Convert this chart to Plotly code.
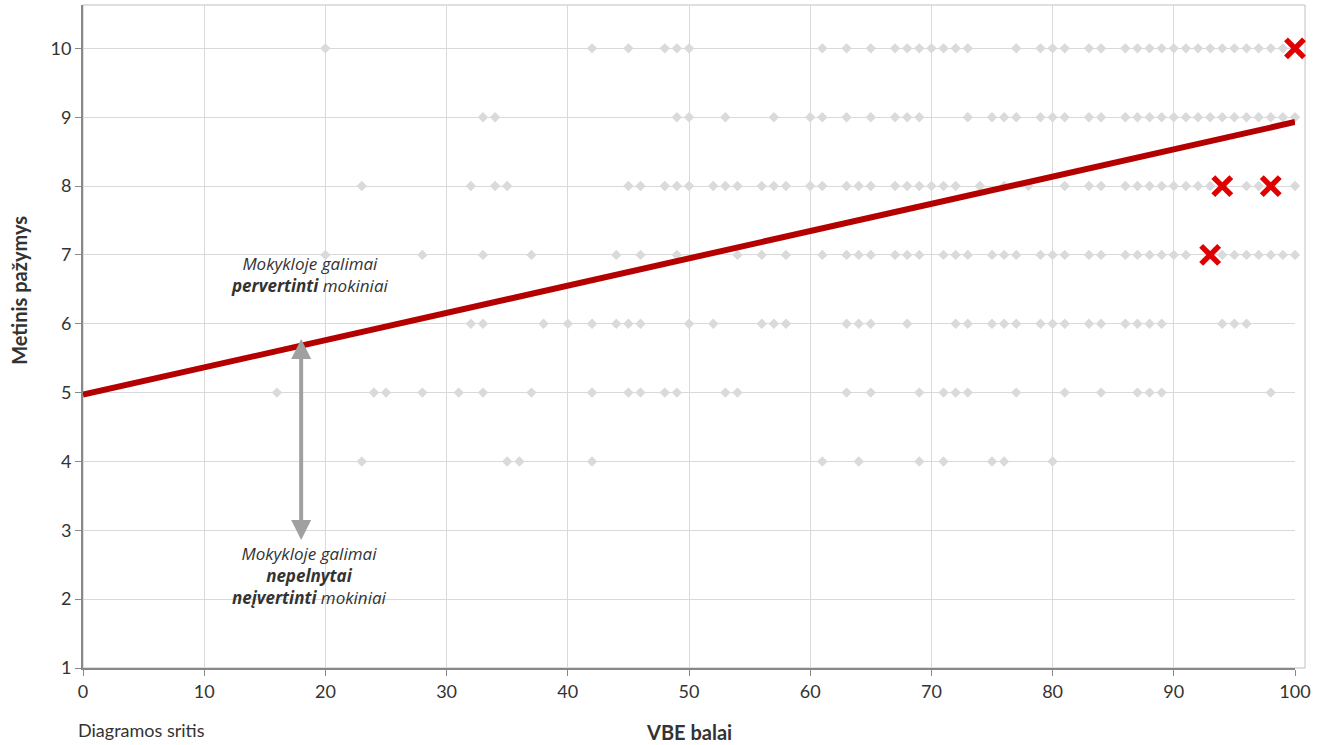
import plotly.graph_objects as go

# VBE scores (x) for each annual grade (y) - gray scatter
row10 = [20, 42, 45, 48, 49, 50, 61, 63, 65, 67, 68, 69, 70, 71, 72, 73, 77, 79, 80, 81, 83, 84,
         86, 87, 88, 89, 90, 91, 92, 93, 94, 95, 96, 97, 98, 99]
row9 = [33, 34, 49, 50, 53, 57, 60, 61, 63, 65, 67, 68, 69, 73, 75, 76, 77, 79, 80, 81, 83, 84,
        86, 87, 88, 89, 90, 91, 92, 93, 94, 95, 96, 97, 98, 99, 100]
row8 = [23, 32, 34, 35, 45, 46, 48, 49, 50, 52, 53, 54, 56, 57, 58, 60, 61, 63, 64, 65, 67, 68, 69,
        70, 71, 72, 74, 76, 78, 81, 83, 84, 86, 87, 88, 89, 90, 91, 92, 93, 96, 97, 100]
row7 = [20, 28, 33, 37, 44, 46, 49, 54, 56, 58, 61, 63, 64, 65, 67, 68, 69, 71, 72, 73, 75, 76, 77,
        79, 80, 81, 83, 84, 86, 87, 88, 89, 90, 91, 94, 95, 96, 97, 98, 99, 100]
row6 = [32, 33, 38, 40, 42, 44, 45, 46, 50, 52, 56, 57, 58, 63, 64, 65, 68, 72, 73, 75, 76, 77,
        79, 80, 81, 83, 84, 86, 87, 88, 89, 94, 95, 96]
row5 = [16, 24, 25, 28, 31, 33, 37, 42, 45, 46, 48, 49, 53, 54, 63, 65, 69, 71, 72, 73, 77, 81,
        84, 87, 88, 89, 98]
row4 = [23, 35, 36, 42, 61, 64, 69, 71, 75, 76, 80]
grades = [10, 9, 8, 7, 6, 5, 4]
rows = [row10, row9, row8, row7, row6, row5, row4]

# highlighted students (red crosses)
hx = [93, 94, 98, 100]
hy = [7, 8, 8, 10]

# regression line endpoints
line_x = [0, 100]
line_y = [4.97, 8.93]

xticks = list(range(0, 101, 10))
yticks = list(range(1, 11))

sx, sy = [], []
for g, r in zip(grades, rows):
    sx += r
    sy += [g] * len(r)

FONT = "Lato"
NOTE_FONT = "Open Sans"

fig = go.Figure()
fig.add_trace(go.Scatter(x=sx, y=sy, mode="markers",
                         marker=dict(symbol="diamond", size=8, color="#DADADA"),
                         hoverinfo="skip", showlegend=False, cliponaxis=False))
fig.add_trace(go.Scatter(x=line_x, y=line_y, mode="lines",
                         line=dict(color="#B50000", width=6), showlegend=False))
fig.add_trace(go.Scatter(x=hx, y=hy, mode="markers",
                         marker=dict(symbol="x-thin", size=18, color="#E00000",
                                     line=dict(width=5.5, color="#E00000")),
                         cliponaxis=False, showlegend=False))

# double arrow
fig.add_annotation(x=18, y=2.86, ax=18, ay=5.8, xref="x", yref="y", axref="x", ayref="y",
                   text="", showarrow=True, arrowhead=2, arrowsize=1, arrowwidth=4,
                   arrowcolor="#A0A0A0", startarrowhead=2, arrowside="end+start", startarrowsize=1)

fig.add_annotation(x=18.7, y=6.72, xref="x", yref="y", showarrow=False,
                   text="<i>Mokykloje galimai</i><br><i><b>pervertinti</b> mokiniai</i>",
                   font=dict(family=NOTE_FONT, size=17, color="#333333"), align="center")
fig.add_annotation(x=18.7, y=2.34, xref="x", yref="y", showarrow=False,
                   text="<i>Mokykloje galimai</i><br><i><b>nepelnytai</b></i><br><i><b>neįvertinti</b> mokiniai</i>",
                   font=dict(family=NOTE_FONT, size=17, color="#333333"), align="center")

# axis titles placed explicitly
fig.add_annotation(x=0.5, y=-0.097, xref="paper", yref="paper", yanchor="middle", showarrow=False,
                   text="<b>VBE balai</b>", font=dict(family=FONT, size=20, color="#333333"))
fig.add_annotation(x=-0.053, y=0.57, xref="paper", yref="paper", xanchor="center", showarrow=False,
                   textangle=-90, text="<b>Metinis pažymys</b>",
                   font=dict(family=FONT, size=20, color="#333333"))
fig.add_annotation(x=-0.006, y=-0.113, xref="paper", yref="paper", xanchor="left", yanchor="bottom",
                   showarrow=False, text="Diagramos sritis",
                   font=dict(family=FONT, size=18, color="#333333"))

# outer border
fig.add_shape(type="rect", xref="paper", yref="paper", x0=0, x1=1.0083, y0=0, y1=1,
              line=dict(color="#BFBFBF", width=1), layer="below")

fig.update_layout(
    width=1317, height=745,
    margin=dict(l=83, r=22, t=5, b=77),
    paper_bgcolor="white", plot_bgcolor="white",
    font=dict(family=FONT, size=16, color="#333333"),
)
fig.update_xaxes(range=[0, 100], tickvals=xticks, showgrid=True, gridcolor="#D9D9D9", gridwidth=1,
                 zeroline=False, showline=True, linecolor="#888888", linewidth=2,
                 ticks="outside", ticklen=6, tickcolor="#888888", tickwidth=1,
                 tickfont=dict(size=18), automargin=False)
fig.update_yaxes(range=[1, 10.63], tickvals=yticks, showgrid=True, gridcolor="#D9D9D9", gridwidth=1,
                 zeroline=False, showline=True, linecolor="#888888", linewidth=2,
                 ticks="outside", ticklen=6, tickcolor="#888888", tickwidth=1,
                 tickfont=dict(size=18), automargin=False)

fig.write_html("out.html", config={"displayModeBar": False},
               post_script="document.body.style.margin='0';")
